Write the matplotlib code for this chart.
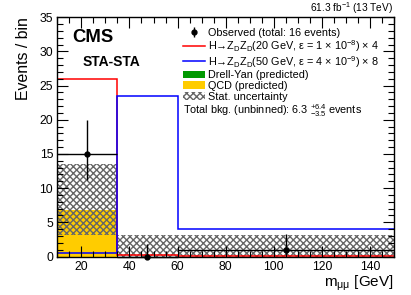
import numpy as np
import matplotlib
matplotlib.use("Agg")
import matplotlib.pyplot as plt
from matplotlib.patches import Patch, Rectangle
from matplotlib.lines import Line2D
from matplotlib.legend_handler import HandlerPatch

plt.rcParams['font.family'] = ['Liberation Sans', 'DejaVu Sans']
plt.rcParams['mathtext.fontset'] = 'custom'
plt.rcParams['mathtext.rm'] = 'Liberation Sans'
plt.rcParams['mathtext.it'] = 'Liberation Sans:italic'
plt.rcParams['mathtext.bf'] = 'Liberation Sans:bold'
plt.rcParams['hatch.linewidth'] = 1.0

# binning in m_mumu
bin_edges = [10, 35, 60, 150]

# observed data
obs = [15, 0, 1]
obs_err_lo = [3.8, 0.0, 0.83]
obs_err_hi = [4.9, 1.8, 2.3]

# signals (already scaled)
sig_20 = [26.0, 0.25, 0.1]
sig_50 = [0.5, 23.5, 4.0]

# backgrounds
dy = [0.0, 0.0, 0.0]
qcd = [6.8, 0.0, 0.0]
unc_lo = [3.1, 0.0, 0.0]
unc_hi = [13.6, 3.1, 3.1]

edges = np.array(bin_edges, dtype=float)
widths = np.diff(edges)
centers = edges[:-1] + widths / 2


def small_box(legend, orig_handle, xdescent, ydescent, width, height, fontsize):
    # slightly shorter legend boxes, leaves a gap between rows like the original
    return Rectangle((-xdescent, -ydescent + 0.12 * height), width, 0.76 * height)


fig = plt.figure(figsize=(4.11, 2.95), dpi=100)
ax = fig.add_axes([57.3 / 411, 1 - 256.5 / 295, (394 - 57.3) / 411, (256.5 - 17.3) / 295])

# stacked backgrounds
ax.bar(edges[:-1], dy, width=widths, align='edge', color='#009900', linewidth=0)
ax.bar(edges[:-1], qcd, width=widths, bottom=dy, align='edge', color='#ffcc00', linewidth=0)

# stat uncertainty band
unc_h = np.array(unc_hi) - np.array(unc_lo)
ax.bar(edges[:-1], unc_h, width=widths, bottom=unc_lo, align='edge', fill=False,
       hatch='xxxxx', edgecolor='#666666', linewidth=0)

# signals
ax.stairs(sig_20, edges, baseline=None, color='#ff0000', linewidth=1.1)
ax.stairs(sig_50, edges, baseline=None, color='#0000ff', linewidth=1.1)

# observed
ax.errorbar(centers, obs, xerr=widths / 2, yerr=[obs_err_lo, obs_err_hi],
            fmt='o', color='black', ms=3.5, elinewidth=1.0, capsize=0, clip_on=False, zorder=5)

ax.set_xlim(10, 150)
ax.set_ylim(0, 35)
ax.set_xticks([20, 40, 60, 80, 100, 120, 140])
ax.set_xticks(np.arange(10, 151, 5), minor=True)
ax.set_yticks([0, 5, 10, 15, 20, 25, 30, 35])
ax.set_yticks(np.arange(0, 36, 1), minor=True)
ax.tick_params(which='both', direction='in', top=True, right=True, labelsize=8.8, width=0.8)
ax.tick_params(which='major', length=8)
ax.tick_params(which='minor', length=4)
ax.tick_params(axis='x', pad=3.5)
ax.tick_params(axis='y', pad=3)
for s in ax.spines.values():
    s.set_linewidth(1.0)

ax.set_ylabel('Events / bin', fontsize=11.4, loc='top', labelpad=6)
ax.set_xlabel(r'm$_{\mathrm{μμ}}$ [GeV]', fontsize=11, loc='right', labelpad=0)

fig.text(393 / 411, 1 - 8 / 295, r'61.3 fb$^{-1}$ (13 TeV)', ha='right', va='center', fontsize=7.3)
fig.text(72 / 411, 1 - 38 / 295, 'CMS', ha='left', va='center', fontsize=13.3, fontweight='bold')
fig.text(82.7 / 411, 1 - 62 / 295, 'STA-STA', ha='left', va='center', fontsize=10, fontweight='bold')

# legend
h_obs = ax.errorbar([np.nan], [np.nan], yerr=[[1], [1]], fmt='o', color='black', ms=3.5, elinewidth=1.0)
handles = [
    h_obs,
    Line2D([], [], color='#ff0000', lw=1.1),
    Line2D([], [], color='#0000ff', lw=1.1),
    Patch(facecolor='#009900', linewidth=0),
    Patch(facecolor='#ffcc00', linewidth=0),
    Patch(facecolor='white', hatch='xxxxx', edgecolor='#666666', linewidth=0),
]
labels = [
    'Observed (total: 16 events)',
    r'H→Z$_{\mathrm{D}}$Z$_{\mathrm{D}}$(20 GeV, ε = 1 × 10$^{-8}$) × 4',
    r'H→Z$_{\mathrm{D}}$Z$_{\mathrm{D}}$(50 GeV, ε = 4 × 10$^{-9}$) × 8',
    'Drell-Yan (predicted)',
    'QCD (predicted)',
    'Stat. uncertainty',
]
leg = ax.legend(handles, labels, loc='upper left', bbox_to_anchor=(183 / 411, 1 - 27.5 / 295),
                bbox_transform=fig.transFigure, frameon=False, fontsize=7.8,
                handlelength=2.0, handleheight=1.1, handletextpad=0.35, labelspacing=-0.02,
                borderpad=0, borderaxespad=0,
                handler_map={Patch: HandlerPatch(patch_func=small_box)})

fig.text(183 / 411, 1 - 111 / 295, r'Total bkg. (unbinned): 6.3 $^{+6.4}_{-3.5}$ events',
         ha='left', va='center', fontsize=7.8)

fig.savefig('out.png', dpi=100)
